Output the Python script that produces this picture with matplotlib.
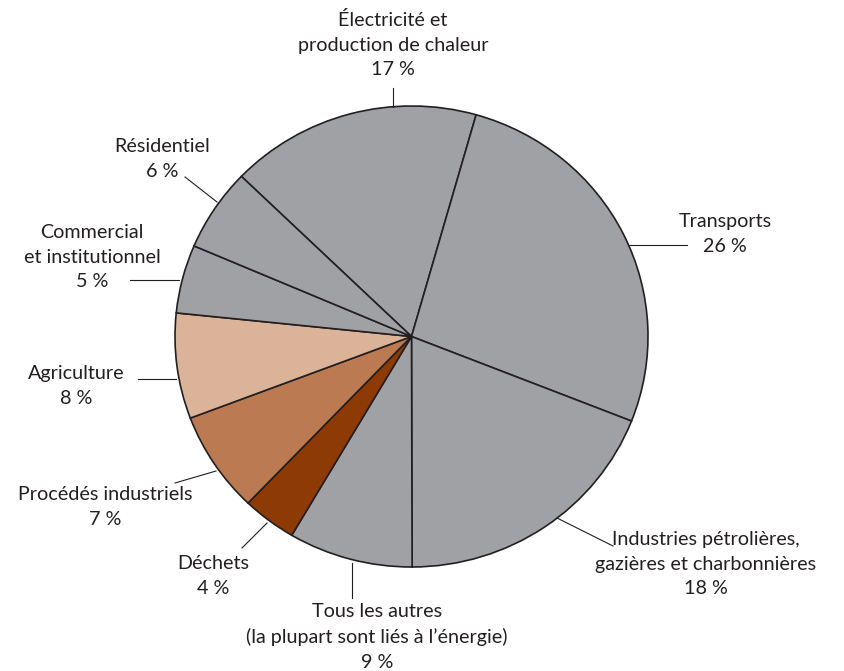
import matplotlib
matplotlib.use('Agg')
import matplotlib.pyplot as plt

# shares (clockwise from the top-left "Électricité" wedge)
categories = ['Électricité et\nproduction de chaleur', 'Transports',
              'Industries pétrolières,\ngazières et charbonnières',
              'Tous les autres\n(la plupart sont liés à l\u2019énergie)',
              'Déchets', 'Procédés industriels', 'Agriculture',
              'Commercial\net institutionnel', 'Résidentiel']
shares = [17.2, 26.6, 19.0, 8.5, 3.7, 7.1, 7.4, 4.8, 5.8]
percent_labels = ['17 %', '26 %', '18 %', '9 %', '4 %', '7 %', '8 %', '5 %', '6 %']

colors = ['#a0a1a4', '#a0a1a4', '#a0a1a4', '#a0a1a4', '#8e3a05',
          '#bb7a52', '#dbb398', '#a0a1a4', '#a0a1a4']

# pie geometry in pixels (slightly wider than tall, as in the source)
CX, CY, RX, RY = 411.5, 336.5, 236.5, 230.5
W, H = 845, 671

def px(x):
    return (x - CX) / RX

def py(y):
    return (CY - y) / RY

fig = plt.figure(figsize=(W / 100, H / 100), dpi=100)
ax = fig.add_axes([0, 0, 1, 1])
ax.pie(shares, colors=colors, startangle=136.0, counterclock=False,
       wedgeprops=dict(edgecolor='#231f20', linewidth=1.2))
ax.set_aspect('auto')
ax.set_xlim(px(0), px(W))
ax.set_ylim(py(H), py(0))
ax.axis('off')

# label text centre x / first-line centre y, and leader line endpoints, pixels
layout = [
    ((393, 20), [(393, 88), (393, 107)]),
    ((725, 222), [(628, 245), (687, 245)]),
    ((706, 540), [(557, 518), (613, 546)]),
    ((377, 612), [(352, 563), (352, 598)]),
    ((213, 564), [(267, 523), (242, 548)]),
    ((105, 495), [(216, 471), (175, 483)]),
    ((76, 374), [(176, 379), (138, 379)]),
    ((92, 233), [(179, 280), (130, 280)]),
    ((162, 147), [(217, 202), (185, 177)]),
]

for name, pct, (tpos, line) in zip(categories, percent_labels, layout):
    ax.text(px(tpos[0]), py(tpos[1] - 9), name + '\n' + pct, ha='center', va='top',
            fontsize=14.2, family='Lato', color='#231f20', linespacing=1.55)
    (x0, y0), (x1, y1) = line
    ax.plot([px(x0), px(x1)], [py(y0), py(y1)], color='#231f20', linewidth=0.8)

plt.savefig('out.png', dpi=100)
